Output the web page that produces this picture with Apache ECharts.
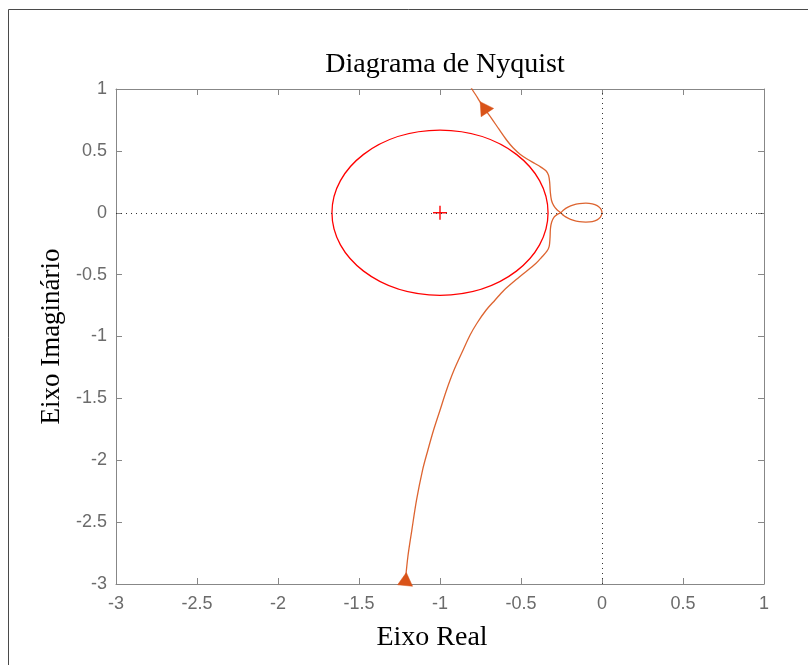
<!DOCTYPE html>
<html>
<head>
<meta charset="utf-8">
<title>Diagrama de Nyquist</title>
<script src="https://cdn.jsdelivr.net/npm/echarts@6/dist/echarts.min.js"></script>
<style>
  html, body { margin: 0; padding: 0; background: #ffffff; }
  #chart { width: 808px; height: 665px; }
</style>
</head>
<body>
<div id="chart"></div>
<script>
// Positive-frequency branch: from the bottom of the view up to the origin
const posRe = [-1.222, -1.216, -1.198, -1.174, -1.145, -1.108, -1.075, -1.040, -1.000, -0.960, -0.914, -0.858, -0.815, -0.772, -0.716, -0.661, -0.605, -0.512, -0.407, -0.370, -0.340, -0.326, -0.321, -0.318, -0.311, -0.296, -0.278, -0.255, -0.235, -0.210, -0.180, -0.140, -0.100, -0.060, -0.030, -0.010, -0.002, 0.000];
const posIm = [-3.100, -3.002, -2.776, -2.566, -2.323, -2.081, -1.919, -1.758, -1.596, -1.434, -1.273, -1.111, -0.990, -0.893, -0.788, -0.707, -0.626, -0.521, -0.408, -0.356, -0.311, -0.271, -0.206, -0.125, -0.077, -0.036, -0.015, 0.000, 0.025, 0.045, 0.062, 0.074, 0.077, 0.072, 0.058, 0.035, 0.015, 0.000];

// Negative-frequency branch: from the origin out through the top of the view
const negRe = [0.000, -0.002, -0.010, -0.030, -0.060, -0.100, -0.140, -0.180, -0.210, -0.235, -0.255, -0.278, -0.298, -0.312, -0.319, -0.323, -0.330, -0.346, -0.377, -0.414, -0.460, -0.506, -0.549, -0.588, -0.636, -0.681, -0.733, -0.768, -0.802, -0.830];
const negIm = [0.000, -0.015, -0.035, -0.058, -0.072, -0.075, -0.072, -0.060, -0.044, -0.025, 0.000, 0.024, 0.057, 0.101, 0.166, 0.246, 0.303, 0.339, 0.369, 0.398, 0.432, 0.473, 0.525, 0.586, 0.675, 0.761, 0.855, 0.929, 0.998, 1.060];

// Direction arrows: centre of each arrowhead and a point further along the branch
const arrowRe = [-1.212, -0.728];
const arrowIm = [-2.964, 0.850];
const arrowAheadRe = [-1.198, -0.768];
const arrowAheadIm = [-2.776, 0.929];

// Critical point and the circle drawn around it
const critical = [-1, 0];
const circleRadius = 0.667;

// Axis ticks
const xTicks = [-3, -2.5, -2, -1.5, -1, -0.5, 0, 0.5, 1];
const xTickLabels = ['-3', '-2.5', '-2', '-1.5', '-1', '-0.5', '0', '0.5', '1'];
const yTicks = [-3, -2.5, -2, -1.5, -1, -0.5, 0, 0.5, 1];
const yTickLabels = ['-3', '-2.5', '-2', '-1.5', '-1', '-0.5', '0', '0.5', '1'];

const zip = (a, b) => a.map((v, i) => [v, b[i]]);
const labelFor = (ticks, labels) => (v) => {
  const i = ticks.findIndex(t => Math.abs(t - v) < 1e-9);
  return i >= 0 ? labels[i] : '';
};

const axisGray = '#878787';
const labelGray = '#6b6b6b';
const curveColor = '#D95319';
const serif = '"Liberation Serif", "Times New Roman", serif';
const sans = '"Liberation Sans", Arial, Helvetica, sans-serif';

const baseAxis = {
  type: 'value', min: -3, max: 1, interval: 0.5,
  axisLine: { show: true, onZero: false, lineStyle: { color: axisGray, width: 1 } },
  axisTick: { show: true, inside: true, length: 6, lineStyle: { color: axisGray, width: 1 } },
  splitLine: { show: false }
};

const chart = echarts.init(document.getElementById('chart'), null, { renderer: 'canvas' });

chart.setOption({
  backgroundColor: '#ffffff',
  animation: false,
  title: {
    text: 'Diagrama de Nyquist',
    left: 440,
    top: 46,
    textAlign: 'center',
    textStyle: { fontFamily: serif, fontSize: 28, fontWeight: 'normal', color: '#000000' }
  },
  graphic: [{
    type: 'polyline',
    silent: true,
    shape: { points: [[8.5, 665], [8.5, 9.5], [808, 9.5]] },
    style: { stroke: '#4a4a4a', lineWidth: 1, fill: 'none' }
  }],
  grid: { left: 116, right: 44, top: 89, bottom: 81, containLabel: false },
  xAxis: [
    Object.assign({}, baseAxis, {
      position: 'bottom',
      name: 'Eixo Real',
      nameLocation: 'middle',
      nameGap: 40,
      nameTextStyle: { fontFamily: serif, fontSize: 28, color: '#000000', padding: [0, 16, 0, 0] },
      axisLabel: { show: true, color: labelGray, fontFamily: sans, fontSize: 18, margin: 11,
                   formatter: labelFor(xTicks, xTickLabels) }
    }),
    Object.assign({}, baseAxis, { position: 'top', axisLabel: { show: false } })
  ],
  yAxis: [
    Object.assign({}, baseAxis, {
      position: 'left',
      name: 'Eixo Imaginário',
      nameLocation: 'middle',
      nameGap: 43,
      nameRotate: 90,
      nameTextStyle: { fontFamily: serif, fontSize: 27, color: '#000000' },
      axisLabel: { show: true, color: labelGray, fontFamily: sans, fontSize: 18, margin: 9,
                   formatter: labelFor(yTicks, yTickLabels) }
    }),
    Object.assign({}, baseAxis, { position: 'right', axisLabel: { show: false } })
  ],
  series: [
    {
      // dotted real and imaginary axes through the origin
      type: 'line',
      data: [],
      silent: true,
      z: 1,
      markLine: {
        silent: true,
        symbol: 'none',
        label: { show: false },
        lineStyle: { color: '#333333', width: 1, type: [1, 4] },
        data: [{ xAxis: 0 }, { yAxis: 0 }]
      }
    },
    {
      // circle around the critical point, plus the point itself
      type: 'custom',
      silent: true,
      z: 2,
      data: [[critical[0], critical[1], circleRadius]],
      renderItem: function (params, api) {
        const c = api.coord([api.value(0), api.value(1)]);
        const r = api.value(2);
        const rx = api.size([r, 0])[0];
        const ry = api.size([0, r])[1];
        const arm = 7;
        return {
          type: 'group',
          children: [
            { type: 'ellipse', shape: { cx: c[0], cy: c[1], rx: rx, ry: ry },
              style: { fill: 'none', stroke: '#ff0000', lineWidth: 1.3 } },
            { type: 'line', shape: { x1: c[0] - arm, y1: c[1], x2: c[0] + arm, y2: c[1] },
              style: { stroke: '#ff0000', lineWidth: 1.4 } },
            { type: 'line', shape: { x1: c[0], y1: c[1] - arm, x2: c[0], y2: c[1] + arm },
              style: { stroke: '#ff0000', lineWidth: 1.4 } }
          ]
        };
      }
    },
    {
      name: 'ω > 0',
      type: 'line',
      data: zip(posRe, posIm),
      showSymbol: false,
      smooth: 0.3,
      z: 3,
      lineStyle: { color: curveColor, width: 1.3, opacity: 0.9 }
    },
    {
      name: 'ω < 0',
      type: 'line',
      data: zip(negRe, negIm),
      showSymbol: false,
      smooth: 0.3,
      z: 3,
      lineStyle: { color: curveColor, width: 1.3, opacity: 0.9 }
    },
    {
      // arrowheads oriented along the branch in screen space
      type: 'custom',
      silent: true,
      z: 4,
      clip: false,
      data: arrowRe.map((x, i) => [x, arrowIm[i], arrowAheadRe[i], arrowAheadIm[i]]),
      renderItem: function (params, api) {
        const p = api.coord([api.value(0), api.value(1)]);
        const q = api.coord([api.value(2), api.value(3)]);
        const len = Math.hypot(q[0] - p[0], q[1] - p[1]) || 1;
        const dx = (q[0] - p[0]) / len, dy = (q[1] - p[1]) / len;
        const nx = -dy, ny = dx;
        const front = 7, back = 6, half = 7.5;
        return {
          type: 'polygon',
          shape: { points: [
            [p[0] + dx * front, p[1] + dy * front],
            [p[0] - dx * back + nx * half, p[1] - dy * back + ny * half],
            [p[0] - dx * back - nx * half, p[1] - dy * back - ny * half]
          ] },
          style: { fill: curveColor, stroke: curveColor, lineWidth: 0.5 }
        };
      }
    }
  ]
});
</script>
</body>
</html>
